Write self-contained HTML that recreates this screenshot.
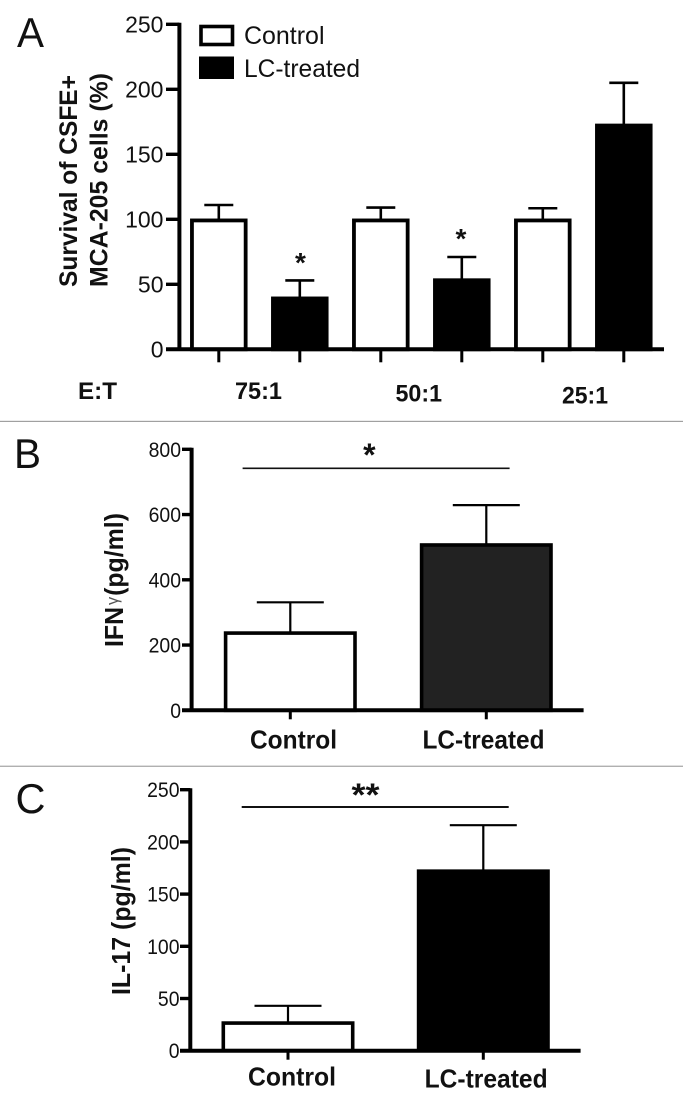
<!DOCTYPE html>
<html lang="en">
<head>
<meta charset="utf-8">
<title>Survival and cytokine bar charts</title>
<style>
html,body{margin:0;padding:0;background:#fff;width:683px;height:1105px;overflow:hidden}
svg{display:block}
text{font-family:"Liberation Sans",Arial,sans-serif;fill:#111}
.b{font-weight:bold}
</style>
</head>
<body>
<svg id="figure" xmlns="http://www.w3.org/2000/svg" width="683" height="1105" viewBox="0 0 683 1105">
  <rect x="0" y="0" width="683" height="1105" fill="#fff"/>
  <rect x="0" y="420.8" width="683" height="1.2" fill="#a0a0a0"/>
  <rect x="0" y="765.6" width="683" height="1.4" fill="#b0b0b0"/>

  <text x="17" y="47" font-size="42" textLength="27" lengthAdjust="spacingAndGlyphs">A</text>
  <text x="14" y="468" font-size="42" textLength="27" lengthAdjust="spacingAndGlyphs">B</text>
  <text x="15.5" y="813" font-size="42" textLength="30" lengthAdjust="spacingAndGlyphs">C</text>

  <g id="chart-a"></g>
  <g id="chart-b"></g>
  <g id="chart-c"></g>

  <g>
    <rect x="201" y="26.5" width="31.5" height="18" fill="#fff" stroke="#000" stroke-width="3.6"/>
    <text x="244" y="44" font-size="25" textLength="80.5" lengthAdjust="spacingAndGlyphs">Control</text>
    <rect x="199" y="56.5" width="35" height="22.5" fill="#000"/>
    <text x="244" y="77" font-size="25" textLength="116" lengthAdjust="spacingAndGlyphs">LC-treated</text>
  </g>

  <text class="b" transform="translate(77,287) rotate(-90)" font-size="25" textLength="212" lengthAdjust="spacingAndGlyphs">Survival of CSFE+</text>
  <text class="b" transform="translate(107.5,287) rotate(-90)" font-size="25" textLength="214" lengthAdjust="spacingAndGlyphs">MCA-205 cells (%)</text>
  <text class="b" x="78" y="399" font-size="24" textLength="39" lengthAdjust="spacingAndGlyphs">E:T</text>
  <text class="b" x="235" y="399" font-size="24" textLength="47" lengthAdjust="spacingAndGlyphs">75:1</text>
  <text class="b" x="395.5" y="401.7" font-size="24" textLength="46.5" lengthAdjust="spacingAndGlyphs">50:1</text>
  <text class="b" x="562" y="403.5" font-size="24" textLength="46" lengthAdjust="spacingAndGlyphs">25:1</text>
  <text class="b" x="300.5" y="272" font-size="28" text-anchor="middle">*</text>
  <text class="b" x="461" y="248" font-size="28" text-anchor="middle">*</text>

  <text class="b" transform="translate(123,647) rotate(-90)" font-size="26" textLength="134" lengthAdjust="spacingAndGlyphs">IFN<tspan font-weight="normal" font-size="17" fill="#555" dx="2" dy="-5">&#947;</tspan><tspan dx="1" dy="5">(pg/ml)</tspan></text>
  <line x1="242.6" y1="468.3" x2="509.6" y2="468.3" stroke="#111" stroke-width="1.6"/>
  <text class="b" x="369.3" y="466" font-size="32" text-anchor="middle">*</text>
  <text class="b" x="250" y="748.5" font-size="26" textLength="87" lengthAdjust="spacingAndGlyphs">Control</text>
  <text class="b" x="422.5" y="748.5" font-size="26" textLength="122" lengthAdjust="spacingAndGlyphs">LC-treated</text>

  <text class="b" transform="translate(130,995) rotate(-90)" font-size="26" textLength="148" lengthAdjust="spacingAndGlyphs">IL-17 (pg/ml)</text>
  <line x1="241.7" y1="807" x2="508.7" y2="807" stroke="#111" stroke-width="2"/>
  <text class="b" x="365.5" y="806" font-size="32" text-anchor="middle" textLength="28" lengthAdjust="spacingAndGlyphs">**</text>
  <text class="b" x="248" y="1085.7" font-size="26" textLength="88" lengthAdjust="spacingAndGlyphs">Control</text>
  <text class="b" x="424.6" y="1087.7" font-size="26" textLength="123" lengthAdjust="spacingAndGlyphs">LC-treated</text>
</svg>
<script>
// Panel A data
var aCategories = ['75:1 control', '75:1 LC-treated', '50:1 control', '50:1 LC-treated', '25:1 control', '25:1 LC-treated'];
var aValues = [100, 40, 100, 54, 100, 173];
var aErrorTops = [111, 53, 109, 71, 108.5, 205];
var aTickLabels = [0, 50, 100, 150, 200, 250];
var aFilled = [false, true, false, true, false, true];

// Panel B data
var bCategories = ['Control', 'LC-treated'];
var bValues = [240, 510];
var bErrorTops = [331, 629];
var bTickLabels = [0, 200, 400, 600, 800];
var bFilled = [false, true];

// Panel C data
var cCategories = ['Control', 'LC-treated'];
var cValues = [27.5, 173];
var cErrorTops = [43, 216];
var cTickLabels = [0, 50, 100, 150, 200, 250];
var cFilled = [false, true];

var NS = 'http://www.w3.org/2000/svg';

function mk(parent, tag, props) {
  var el = document.createElementNS(NS, tag);
  for (var k in props) { el.setAttribute(k, props[k]); }
  parent.appendChild(el);
  return el;
}

function drawChart(opt) {
  var g = document.getElementById(opt.id);
  var yMax = opt.ticks[opt.ticks.length - 1];
  function yScale(v) { return opt.y0 - (v / yMax) * (opt.y0 - opt.yTop); }
  function xScale(i) { return opt.x0 + i * opt.step; }

  opt.values.forEach(function (v, i) {
    var cx = xScale(i);
    var top = yScale(v);
    var errTop = yScale(opt.errors[i]);

    var stem = mk(g, 'line', { x1: cx, x2: cx, y1: top, y2: errTop, stroke: '#000', 'stroke-width': opt.errW });
    
    

    var cap = mk(g, 'line', { x1: cx - opt.capW / 2, x2: cx + opt.capW / 2, y1: errTop, y2: errTop, stroke: '#000', 'stroke-width': opt.errW });
    
    

    var inset = opt.barStroke / 2;
    var barTop = top + inset * 0.6;
    var bar = mk(g, 'rect', {
      x: cx - opt.barW / 2 + inset,
      y: barTop,
      width: opt.barW - opt.barStroke,
      height: Math.max(0, opt.y0 - barTop),
      fill: opt.filled[i] ? opt.fillColor : '#fff',
      stroke: opt.filled[i] ? opt.strokeFilled : '#000',
      'stroke-width': opt.barStroke
    });
    
    

    var xTick = mk(g, 'line', { x1: cx, x2: cx, y1: opt.y0, y2: opt.y0 + opt.xTickLen, stroke: '#000', 'stroke-width': 3 });
    
    
  });

  var yAxis = mk(g, 'line', { x1: opt.axisX, x2: opt.axisX, y1: opt.yTop - 1.5, y2: opt.y0 + 1.5, stroke: '#000', 'stroke-width': 4 });
  
  

  var xAxis = mk(g, 'line', { x1: opt.tickX, x2: opt.axisEnd, y1: opt.y0, y2: opt.y0, stroke: '#000', 'stroke-width': 4 });
  
  

  opt.ticks.forEach(function (t) {
    var y = yScale(t);
    var tick = mk(g, 'line', { x1: opt.tickX, x2: opt.axisX, y1: y, y2: y, stroke: '#000', 'stroke-width': 3.4 });
    
    

    var s = String(t);
    var label = mk(g, 'text', {
      x: opt.labelX,
      y: y + opt.fontSize * 0.35,
      'text-anchor': 'end',
      'font-size': opt.fontSize,
      textLength: opt.digitW * s.length,
      lengthAdjust: 'spacingAndGlyphs'
    });
    
    
    label.textContent = s;
  });
}

drawChart({
  id: 'chart-a', key: 'a', categories: aCategories, values: aValues, errors: aErrorTops,
  ticks: aTickLabels, filled: aFilled, y0: 349.3, yTop: 24.3, x0: 218.8, step: 81,
  barW: 57.5, barStroke: 3.8, capW: 29, errW: 2.6, axisX: 179.4, tickX: 166, axisEnd: 664,
  xTickLen: 13, labelX: 163.5, fontSize: 23.5, digitW: 12.8, fillColor: '#000', strokeFilled: '#000'
});
drawChart({
  id: 'chart-b', key: 'b', categories: bCategories, values: bValues, errors: bErrorTops,
  ticks: bTickLabels, filled: bFilled, y0: 710.3, yTop: 449.3, x0: 290.3, step: 196,
  barW: 133, barStroke: 3.6, capW: 67, errW: 2.2, axisX: 191.6, tickX: 182, axisEnd: 583.6,
  xTickLen: 9, labelX: 181, fontSize: 21.5, digitW: 10.8, fillColor: '#222', strokeFilled: '#000'
});
drawChart({
  id: 'chart-c', key: 'c', categories: cCategories, values: cValues, errors: cErrorTops,
  ticks: cTickLabels, filled: cFilled, y0: 1050.7, yTop: 789.7, x0: 288, step: 195.3,
  barW: 133, barStroke: 3.6, capW: 67, errW: 2.2, axisX: 190.3, tickX: 180, axisEnd: 580.6,
  xTickLen: 9, labelX: 179.5, fontSize: 21.5, digitW: 10.8, fillColor: '#000', strokeFilled: '#000'
});
</script>
</body>
</html>
